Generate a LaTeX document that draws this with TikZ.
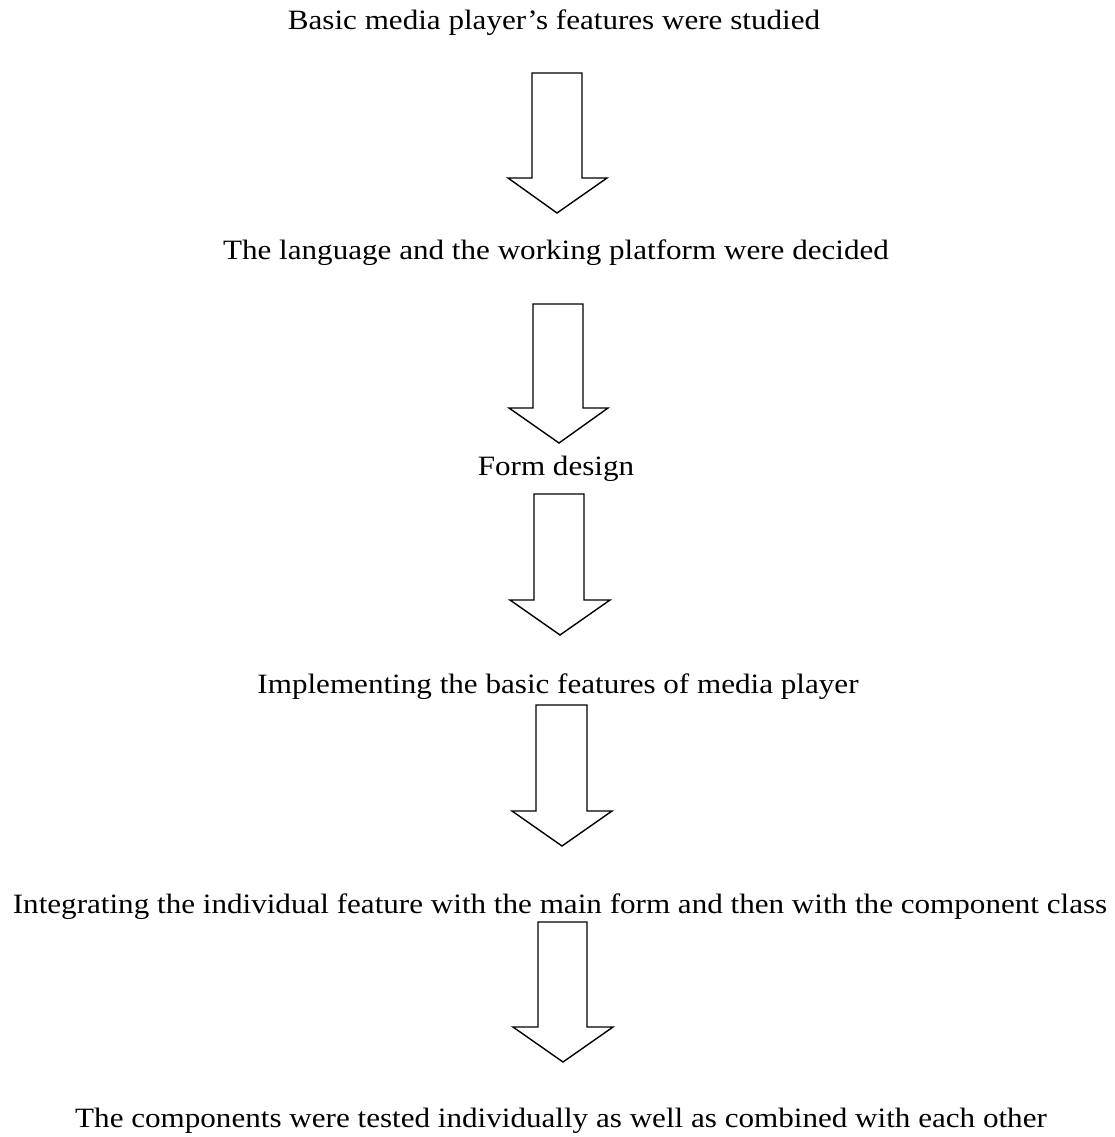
\documentclass[tikz,border=0pt]{standalone}
\usepackage{fontspec}
\setmainfont{Liberation Serif}
\newcommand{\lblbox}[1]{\scalebox{1}[0.9]{#1}}
\begin{document}
\begin{tikzpicture}[x=1pt,y=-1pt,
  lbl/.style={anchor=base,inner sep=0pt,font=\fontsize{31.1}{36}\selectfont},
  blockarrow/.style={draw=black,line width=1.4pt,line join=miter,fill=white}]
\useasboundingbox (0,0) rectangle (1114,1137);
\node[lbl] (t1) at (554,30) {\lblbox{Basic media player’s features were studied}};
\node[lbl] (t2) at (556,259) {\lblbox{The language and the working platform were decided}};
\node[lbl] (t3) at (556,475) {\lblbox{Form design}};
\node[lbl] (t4) at (558,693) {\lblbox{Implementing the basic features of media player}};
\node[lbl] (t5) at (560,913) {\lblbox{Integrating the individual feature with the main form and then with the component class}};
\node[lbl] (t6) at (561,1127) {\lblbox{The components were tested individually as well as combined with each other}};
% block arrows: shaft left, shaft right, top, shaft bottom, head left, head right, tip y, tip x
\foreach \sl/\sr/\top/\sb/\hl/\hr/\ty/\tx in {
  532/582/73/178/508/607/213/557,
  533/583/304/408/509/608/443/559,
  534/584/494/600/510/610/635/560,
  536/587/705/811/512/612/846/562,
  538/587/922/1027/513/613/1062/563}{
  \draw[blockarrow] (\sl,\top) -- (\sr,\top) -- (\sr,\sb) -- (\hr,\sb) -- (\tx,\ty) -- (\hl,\sb) -- (\sl,\sb) -- cycle;
}
\end{tikzpicture}
\end{document}
